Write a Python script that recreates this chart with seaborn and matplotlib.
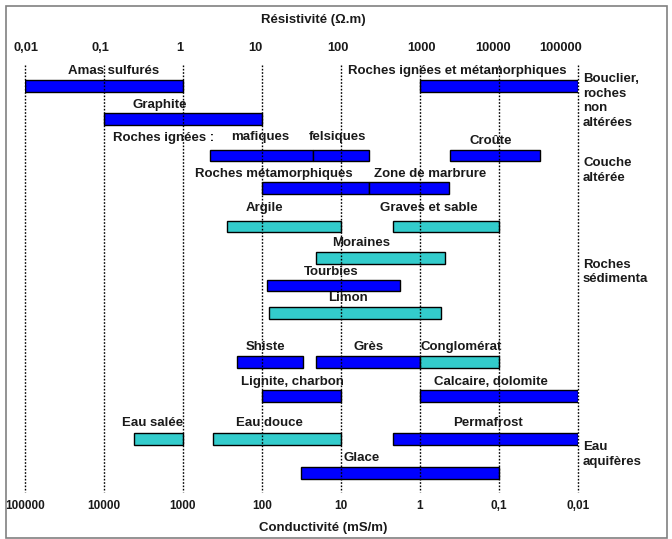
import matplotlib
matplotlib.use("Agg")
import matplotlib.pyplot as plt
import matplotlib.patches as mpatches
import numpy as np
import pandas as pd
import seaborn as sns

# ---------------- data ----------------
materials = ["Amas sulfurés", "Roches ignées et métamorphiques", "Graphite",
             "mafiques", "felsiques", "Croûte", "Roches métamorphiques",
             "Zone de marbrure", "Argile", "Graves et sable", "Moraines",
             "Tourbies", "Limon", "Shiste", "Grès", "Conglomérat",
             "Lignite, charbon", "Calcaire, dolomite", "Eau salée",
             "Eau douce", "Permafrost", "Glace"]
res_min = [0.01, 1000, 0.1, 2.2, 44, 2400, 10, 226, 3.6, 455, 48, 11.6,
           12.3, 4.8, 48, 1000, 10, 1000, 0.24, 2.4, 455, 31]
res_max = [1, 100000, 10, 44, 226, 33000, 226, 2330, 100, 10000, 2070, 558,
           1845, 33, 1000, 10000, 100, 100000, 1, 100, 100000, 10000]
group = ["roche", "roche", "roche", "roche", "roche", "roche", "roche",
         "roche", "meuble", "meuble", "meuble", "roche", "meuble", "roche",
         "roche", "meuble", "roche", "roche", "meuble", "meuble", "roche",
         "roche"]
row = [0, 0, 1, 2, 2, 2, 3, 3, 4, 4, 5, 6, 7, 8, 8, 8, 9, 9, 10, 10, 10, 11]

top_ticks = ["0,01", "0,1", "1", "10", "100", "1000", "10000", "100000"]
bottom_ticks = ["100000", "10000", "1000", "100", "10", "1", "0,1", "0,01"]
tick_values = [0.01, 0.1, 1, 10, 100, 1000, 10000, 100000]
categories = ["Bouclier,\nroches\nnon\naltérées", "Couche\naltérée",
              "Roches\nsédimenta", "Eau\naquifères"]

# ---------------- layout (pixels of the 672x539 image) ----------------
W, H = 672, 539
row_center = [86, 119, 155.5, 188, 226.5, 258, 285.5, 313, 362, 396, 439, 473]
label_x = [0.134, 2940, 0.51, 9.4, 89, 7920, 14.2, 1340, 10.9, 1300, 179,
           74.7, 123, 11.2, 226, 3300, 24, 7920, 0.41, 12.3, 7260, 185]
label_y = [71, 71, 105, 137, 137, 141, 174, 174, 208, 208, 243, 272, 298,
           347, 347, 347, 382, 382, 423, 423, 423, 458]
top_tick_x = [0.0103, 0.089, 0.92, 8.2, 91, 1050, 8500, 61000]
cat_y = [101, 170.5, 272, 454.5]

df = pd.DataFrame({"materiau": materials, "rmin": res_min, "rmax": res_max,
                   "groupe": group, "rang": row})
df["y"] = [row_center[r] for r in df["rang"]]

sns.set_theme(style="white")
plt.rcParams["font.family"] = ["Liberation Sans", "DejaVu Sans"]

palette = {"roche": "#0000FF", "meuble": "#33CCCC"}
txt_color = "#1a1a1a"
FS = 9.5

fig = plt.figure(figsize=(W / 100, H / 100), dpi=100)
ax = fig.add_axes([25 / W, 0, 553 / W, 1])
ax.set_xscale("log")
ax.set_xlim(0.01, 100000)
ax.set_ylim(H, 0)
ax.axis("off")

# bars
ax.barh(df["y"], df["rmax"] - df["rmin"], left=df["rmin"], height=11.5,
        color=[palette[g] for g in df["groupe"]], edgecolor="black",
        linewidth=1.0, zorder=2)

# dotted decade lines
ax.vlines(tick_values, 65, 492, colors="black", linestyles=(0, (1.2, 1.2)),
          linewidth=1.0, zorder=3, clip_on=False)

# bar labels
for name, lx, ly in zip(df["materiau"], label_x, label_y):
    ax.text(lx, ly, name, ha="center", va="center", fontsize=FS,
            fontweight="bold", color=txt_color, zorder=4)
ax.text(0.56, 138, "Roches ignées :", ha="center", va="center", fontsize=FS,
        fontweight="bold", color=txt_color, zorder=4)

# axis tick labels
for tx, v, t, b in zip(top_tick_x, tick_values, top_ticks, bottom_ticks):
    ax.text(tx, 48, t, ha="center", va="center", fontsize=9.3,
            fontweight="bold", color=txt_color, clip_on=False)
    ax.text(v, 506, b, ha="center", va="center", fontsize=8.5,
            fontweight="bold", color=txt_color, clip_on=False)

fig.text(313 / W, 1 - 20 / H, "Résistivité (Ω.m)", ha="center", va="center",
         fontsize=FS, fontweight="bold", color=txt_color)
fig.text(323 / W, 1 - 528 / H, "Conductivité (mS/m)", ha="center",
         va="center", fontsize=FS, fontweight="bold", color=txt_color)

# right-hand categories
for c, cy in zip(categories, cat_y):
    fig.text(583 / W, 1 - cy / H, c, ha="left", va="center", fontsize=FS,
             fontweight="bold", color=txt_color, linespacing=1.3)

# figure frame
fig.patches.append(mpatches.Rectangle((5.5 / W, 1.5 / H), 661 / W, 532 / H,
                                      transform=fig.transFigure, fill=False,
                                      edgecolor="#808080", linewidth=1.2))

fig.savefig("out.png", dpi=100)
